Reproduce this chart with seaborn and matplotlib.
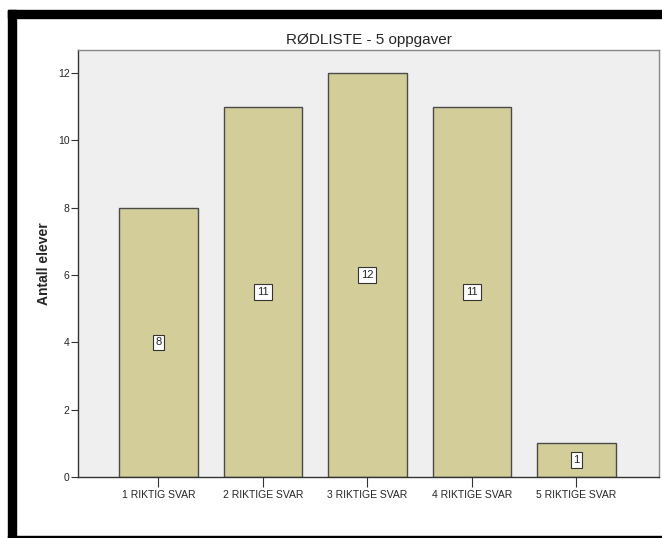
import matplotlib
matplotlib.use("Agg")
import matplotlib.pyplot as plt
import pandas as pd
import seaborn as sns
from matplotlib.patches import Rectangle

categories = ["1 RIKTIG SVAR", "2 RIKTIGE SVAR", "3 RIKTIGE SVAR",
              "4 RIKTIGE SVAR", "5 RIKTIGE SVAR"]
counts = [8, 11, 12, 11, 1]

df = pd.DataFrame({"svar": categories, "antall": counts})

sns.set_style("white")
plt.rcParams["font.family"] = ["Liberation Sans", "DejaVu Sans"]

W, H = 662, 538
fig = plt.figure(figsize=(W / 100, H / 100), dpi=100)
ax = fig.add_axes([78 / W, (H - 477) / H, (659 - 78) / W, (477 - 50) / H])
ax.set_facecolor("#efefef")

sns.barplot(data=df, x="svar", y="antall", ax=ax, color="#d3ce99",
            saturation=1, width=0.75, edgecolor="#4a4a4a", linewidth=1)

# value labels in boxes at mid height
for i, v in enumerate(counts):
    ax.text(i, v / 2, str(v), ha="center", va="center", fontsize=8,
            bbox=dict(boxstyle="square,pad=0.25", fc="white", ec="#333333", lw=0.8))

ax.set_xlim(-0.77, 4.79)
ax.set_ylim(0, 12.68)
ax.set_yticks([0, 2, 4, 6, 8, 10, 12])
ax.tick_params(axis="y", left=True, length=5, width=0.8, labelsize=7.5, pad=1, color="#333333")
ax.tick_params(axis="x", bottom=True, length=7, width=0.8, labelsize=7.5, pad=2, color="#333333")
ax.set_xlabel("")
ax.set_ylabel("Antall elever", fontsize=10, fontweight="bold", labelpad=5)
ax.set_title("RØDLISTE - 5 oppgaver", fontsize=11, pad=4)

for s in ax.spines.values():
    s.set_visible(True)
    s.set_color("#888888")
    s.set_linewidth(1)
ax.spines["bottom"].set_color("#333333")
ax.spines["left"].set_color("#333333")

# black frame pieces around the chart
fig.patches.append(Rectangle((8 / W, (H - 18) / H), (W - 8) / W, 8 / H,
                             transform=fig.transFigure, color="black"))
fig.patches.append(Rectangle((8 / W, 0), 8 / W, (H - 10) / H,
                             transform=fig.transFigure, color="black"))
fig.patches.append(Rectangle((8 / W, 0), (W - 8) / W, 2 / H,
                             transform=fig.transFigure, color="black"))

fig.savefig("out.png", dpi=100)
